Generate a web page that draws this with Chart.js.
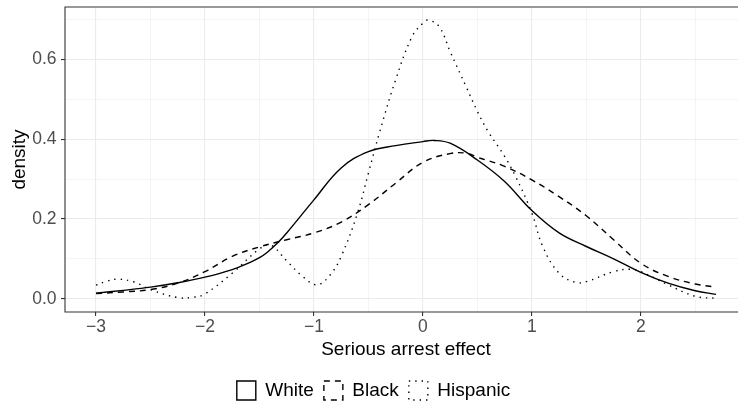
<!DOCTYPE html>
<html>
<head>
<meta charset="utf-8">
<script src="https://cdn.jsdelivr.net/npm/chart.js@4.4.1/dist/chart.umd.min.js"></script>
<style>
  html, body { margin: 0; padding: 0; background: #fff; overflow: hidden; }
  #wrap { width: 754px; height: 410px; }
</style>
</head>
<body>
<div id="wrap"><canvas id="density-chart"></canvas></div>
<script>
// density estimates of the serious arrest effect, one curve per group
const groupNames = ["White", "Black", "Hispanic"];

const whiteEffect  = [-3, -2.75, -2.5, -2.25, -2, -1.75, -1.58, -1.5, -1.43, -1.33, -1.25, -1, -0.75, -0.5, -0.25, 0, 0.1, 0.25, 0.5, 0.75, 1, 1.25, 1.5, 1.75, 2, 2.25, 2.5, 2.69];
const whiteDensity = [0.014, 0.021, 0.029, 0.040, 0.054, 0.073, 0.092, 0.103, 0.116, 0.141, 0.165, 0.248, 0.328, 0.369, 0.384, 0.394, 0.397, 0.390, 0.348, 0.294, 0.221, 0.165, 0.131, 0.100, 0.066, 0.039, 0.020, 0.011];

const blackEffect  = [-3, -2.75, -2.5, -2.25, -2, -1.75, -1.5, -1.25, -1, -0.75, -0.5, -0.25, 0, 0.25, 0.4, 0.5, 0.75, 1, 1.25, 1.5, 1.75, 2, 2.25, 2.5, 2.69];
const blackDensity = [0.013, 0.017, 0.023, 0.039, 0.068, 0.106, 0.130, 0.148, 0.165, 0.192, 0.236, 0.290, 0.342, 0.364, 0.365, 0.355, 0.332, 0.298, 0.256, 0.208, 0.148, 0.089, 0.056, 0.037, 0.029];

const hispanicEffect  = [-3, -2.9, -2.8, -2.65, -2.5, -2.25, -2.1, -2, -1.75, -1.5, -1.4, -1.25, -1.1, -0.97, -0.85, -0.75, -0.6, -0.5, -0.4, -0.25, -0.1, 0, 0.05, 0.15, 0.25, 0.4, 0.5, 0.6, 0.75, 0.85, 1, 1.1, 1.25, 1.4, 1.5, 1.75, 1.9, 2, 2.25, 2.5, 2.69];
const hispanicDensity = [0.034, 0.044, 0.049, 0.042, 0.023, 0.003, 0.004, 0.012, 0.064, 0.125, 0.135, 0.095, 0.055, 0.035, 0.060, 0.106, 0.215, 0.315, 0.415, 0.549, 0.657, 0.691, 0.699, 0.682, 0.620, 0.530, 0.470, 0.419, 0.357, 0.307, 0.215, 0.131, 0.064, 0.041, 0.043, 0.068, 0.074, 0.068, 0.035, 0.006, 0.001];

const xMajorTicks = [-3, -2, -1, 0, 1, 2];
const xMinorTicks = [-2.5, -1.5, -0.5, 0.5, 1.5, 2.5];
const yMajorTicks = [0, 0.2, 0.4, 0.6];
const yMinorTicks = [0.1, 0.3, 0.5, 0.7];

const toPoints = (xs, ys) => xs.map((x, i) => ({ x: x, y: ys[i] }));
const isMajor = (v, majors) => majors.some(m => Math.abs(m - v) < 1e-9);

Chart.defaults.font.family = "'Liberation Sans', Arial, sans-serif";

// panel outline on the top, left and bottom sides
const panelBorder = {
  id: "panelBorder",
  afterDatasetsDraw(chart) {
    const { ctx, chartArea: a } = chart;
    ctx.save();
    ctx.strokeStyle = "#333333";
    ctx.lineWidth = 1.1;
    ctx.beginPath();
    ctx.moveTo(a.right, a.top);
    ctx.lineTo(a.left, a.top);
    ctx.lineTo(a.left, a.bottom);
    ctx.lineTo(a.right, a.bottom);
    ctx.stroke();
    ctx.restore();
  }
};

const lineStyle = (label, xs, ys, dash) => ({
  label: label,
  data: toPoints(xs, ys),
  borderColor: "#000000",
  backgroundColor: "rgba(255,255,255,0)",
  borderWidth: 1.4,
  borderDash: dash,
  borderCapStyle: "butt",
  pointRadius: 0,
  tension: 0.4,
});

new Chart(document.getElementById("density-chart"), {
  type: "line",
  data: {
    datasets: [
      lineStyle(groupNames[0], whiteEffect, whiteDensity, []),
      lineStyle(groupNames[1], blackEffect, blackDensity, [6, 5]),
      lineStyle(groupNames[2], hispanicEffect, hispanicDensity, [1.4, 5]),
    ],
  },
  options: {
    responsive: true,
    maintainAspectRatio: false,
    animation: false,
    layout: { padding: { top: 7, right: 7, left: 0, bottom: 0 } },
    plugins: {
      tooltip: { enabled: false },
      legend: {
        position: "bottom",
        labels: {
          color: "#000000",
          font: { size: 19 },
          boxWidth: 19,
          boxHeight: 19,
          padding: 10,
        },
      },
    },
    scales: {
      x: {
        type: "linear",
        min: -3.2845,
        max: 2.9745,
        afterBuildTicks: axis => {
          axis.ticks = [...xMajorTicks, ...xMinorTicks].sort((a, b) => a - b).map(v => ({ value: v }));
        },
        afterFit: axis => {
          axis.height = 59;
          axis.paddingLeft = 0;
          axis.paddingRight = 0;
        },
        ticks: {
          color: "#4d4d4d",
          font: { size: 17.5 },
          padding: 1,
          maxRotation: 0,
          autoSkip: false,
          callback: v => isMajor(v, xMajorTicks) ? String(v).replace("-", "\u2212") : "",
        },
        grid: {
          color: "#ebebeb",
          lineWidth: c => isMajor(c.tick.value, xMajorTicks) ? 1.1 : 0.55,
          tickColor: c => isMajor(c.tick.value, xMajorTicks) ? "#333333" : "rgba(0,0,0,0)",
          tickLength: 4,
        },
        border: { display: false },
        title: {
          display: true,
          text: "Serious arrest effect",
          color: "#000000",
          font: { size: 19 },
          padding: { top: 0, bottom: 10 },
        },
      },
      y: {
        type: "linear",
        min: -0.0333,
        max: 0.7317,
        afterBuildTicks: axis => {
          axis.ticks = [...yMajorTicks, ...yMinorTicks].sort((a, b) => a - b).map(v => ({ value: v }));
        },
        afterFit: axis => {
          axis.width = 65;
          axis.paddingTop = 0;
          axis.paddingBottom = 0;
        },
        ticks: {
          color: "#4d4d4d",
          font: { size: 17.5 },
          padding: 4.5,
          autoSkip: false,
          callback: v => isMajor(v, yMajorTicks) ? v.toFixed(1) : "",
        },
        grid: {
          color: "#ebebeb",
          lineWidth: c => isMajor(c.tick.value, yMajorTicks) ? 1.1 : 0.55,
          tickColor: c => isMajor(c.tick.value, yMajorTicks) ? "#333333" : "rgba(0,0,0,0)",
          tickLength: 4,
        },
        border: { display: false },
        title: {
          display: true,
          text: "density",
          color: "#000000",
          font: { size: 19 },
          padding: { top: 8, bottom: 0 },
        },
      },
    },
  },
  plugins: [panelBorder],
});
</script>
</body>
</html>
